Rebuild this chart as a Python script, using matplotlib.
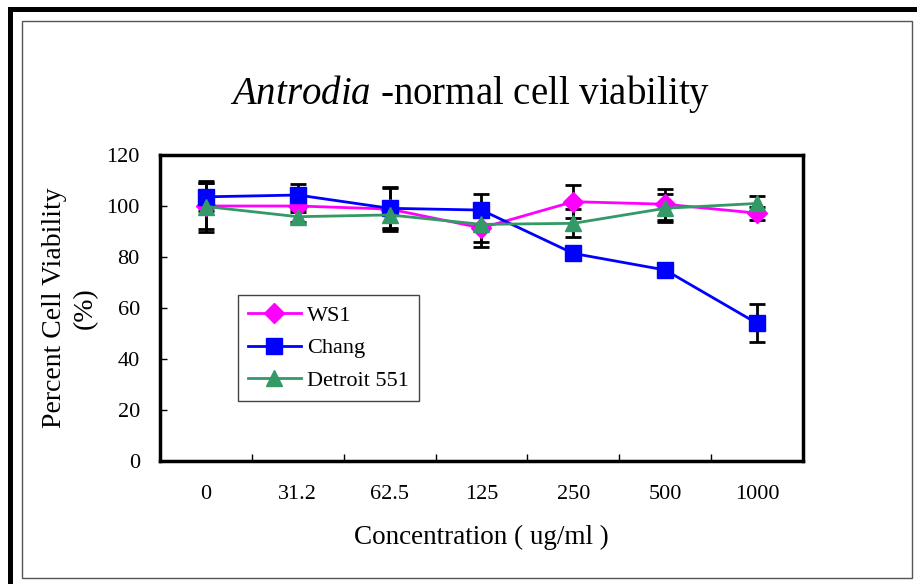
import matplotlib.pyplot as plt
from matplotlib.patches import Rectangle

plt.rcParams['font.family'] = 'Liberation Serif'
plt.rcParams['mathtext.fontset'] = 'custom'
plt.rcParams['mathtext.it'] = 'Liberation Serif:italic'
plt.rcParams['mathtext.rm'] = 'Liberation Serif'

# -----------------------------------------------------------
# data
# -----------------------------------------------------------
concentrations = ["0", "31.2", "62.5", "125", "250", "500", "1000"]

ws1 = [100, 100, 98.8, 91.4, 101.7, 100.7, 97.2]
ws1_err = [9, 1, 8.5, 7.5, 6.5, 6, 2.5]

chang = [103.6, 104.3, 99.1, 98.4, 81.4, 74.9, 54.0]
chang_err = [5.6, 4.2, 8, 6.2, 2, 2, 7.5]

detroit = [99.8, 95.8, 96.5, 92.8, 93.2, 99.1, 101.0]
detroit_err = [10, 2, 5, 7, 5.5, 5.5, 3]

series = [
    ("WS1", ws1, ws1_err, "#FF00FF", "D", 10),
    ("Chang", chang, chang_err, "#0000FF", "s", 11),
    ("Detroit 551", detroit, detroit_err, "#339966", "^", 11),
]

# -----------------------------------------------------------
# figure + frame
# -----------------------------------------------------------
fig = plt.figure(figsize=(9.17, 5.84), dpi=100)
W, H = 917, 584

def px_rect(x0, y0, x1, y1, **kw):
    fig.patches.append(Rectangle((x0 / W, 1 - y1 / H), (x1 - x0) / W, (y1 - y0) / H,
                                 transform=fig.transFigure, **kw))

# thick black outer lines (top and left), thin gray inner box
px_rect(8, 7, W, 12, facecolor="black", edgecolor="none")
px_rect(8, 7, 13, H, facecolor="black", edgecolor="none")
px_rect(22, 21, 912, 578, facecolor="none", edgecolor="#555555", linewidth=1)

ax = fig.add_axes([160 / W, 1 - 461 / H, (803 - 160) / W, (461 - 155) / H])

x = list(range(len(concentrations)))
for name, vals, errs, color, mk, ms in series:
    ax.errorbar(x, vals, yerr=errs, fmt="none", ecolor="black", elinewidth=2,
                capsize=5.5, capthick=2, zorder=2)
    ax.plot(x, vals, color=color, marker=mk, markersize=ms, linewidth=2,
            label=name, zorder=3)

ax.set_xlim(-0.5, len(concentrations) - 0.5)
ax.set_ylim(0, 120)
ax.set_yticks(range(0, 121, 20))
ax.set_xticks(x)
ax.set_xticklabels(concentrations)
ax.set_xticks([i + 0.5 for i in x[:-1]], minor=True)
ax.tick_params(axis="x", which="major", length=0, pad=17, labelsize=16)
ax.tick_params(axis="x", which="minor", direction="in", length=5, width=1)
ax.tick_params(axis="y", direction="in", length=5, width=1, pad=14.5, labelsize=16)
for s in ax.spines.values():
    s.set_linewidth(2.5)

ax.set_xlabel("Concentration ( ug/ml )", fontsize=19.5, labelpad=15)
ax.set_ylabel("Percent Cell Viability\n(%)", fontsize=20, labelpad=6,
              linespacing=1.3)

fig.text(470 / W, 1 - 94 / H, r"$\mathit{Antrodia}$ -normal cell viability",
         fontsize=28, ha="center", va="center")

leg = ax.legend(loc="upper left", bbox_to_anchor=(0.121, 0.542), fontsize=16,
                fancybox=False, edgecolor="#444444", framealpha=1,
                handlelength=2.4, borderpad=0.45, labelspacing=0.55,
                handletextpad=0.25, borderaxespad=0)
leg.get_frame().set_linewidth(1)

fig.savefig("out.png", dpi=100)
